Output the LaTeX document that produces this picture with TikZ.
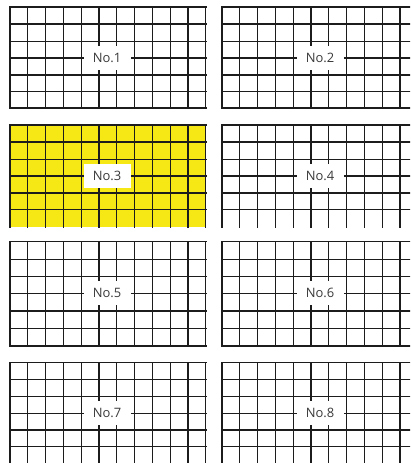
\documentclass[tikz,border=0pt]{standalone}
\usepackage{fontspec}
\setmainfont{Open Sans}
\definecolor{gridyellow}{RGB}{246,232,20}
\definecolor{gridline}{RGB}{28,28,28}
\definecolor{labelgray}{RGB}{58,58,58}
\newcommand\gridblock[5]{%
  \fill[#5] (#1,#2) rectangle ({#1+196},#3);
  \foreach \yy in {#4} \draw[gridstroke] (#1,\yy) -- ({#1+196},\yy);
  \foreach \k in {0,...,11} \draw[gridstroke] ({#1+\k*17.8},#2) -- ({#1+\k*17.8},#3);
}
\begin{document}
\begin{tikzpicture}[x=1bp,y=-1bp,
  gridstroke/.style={draw=gridline,line width=1.3bp,line cap=rect},
  lbl/.style={fill=white,inner sep=0pt,minimum width=47bp,minimum height=24bp,
    text=labelgray,font=\fontsize{13}{14}\selectfont}]
\useasboundingbox (0,0) rectangle (410,463);
\clip (0,0) rectangle (410,463);
% row A
\gridblock{10}{7}{108}{7,24,41.3,58,75,91.5,108}{white}
\gridblock{222}{7}{108}{7,24,41.3,58,75,91.5,108}{white}
% row B
\gridblock{10}{125}{227}{125,142,159.3,176,193,209.7}{gridyellow}
\gridblock{222}{125}{227}{125,142,159.3,176,193,209.7}{white}
% row C
\gridblock{10}{241.7}{346}{241.7,259.3,276.7,293.3,311,328.3,346}{white}
\gridblock{222}{241.7}{346}{241.7,259.3,276.7,293.3,311,328.3,346}{white}
% row D
\gridblock{10}{362.7}{470}{362.7,379.7,396.7,413.3,430,446.7}{white}
\gridblock{222}{362.7}{470}{362.7,379.7,396.7,413.3,430,446.7}{white}
% labels
\node[lbl] (n1) at (107,58) {No.1};
\node[lbl] (n2) at (320,58) {No.2};
\node[lbl] (n3) at (107,176) {No.3};
\node[lbl] (n4) at (320,176) {No.4};
\node[lbl] (n5) at (107,293.3) {No.5};
\node[lbl] (n6) at (320,293.3) {No.6};
\node[lbl] (n7) at (107,413.3) {No.7};
\node[lbl] (n8) at (320,413.3) {No.8};
\end{tikzpicture}
\end{document}
